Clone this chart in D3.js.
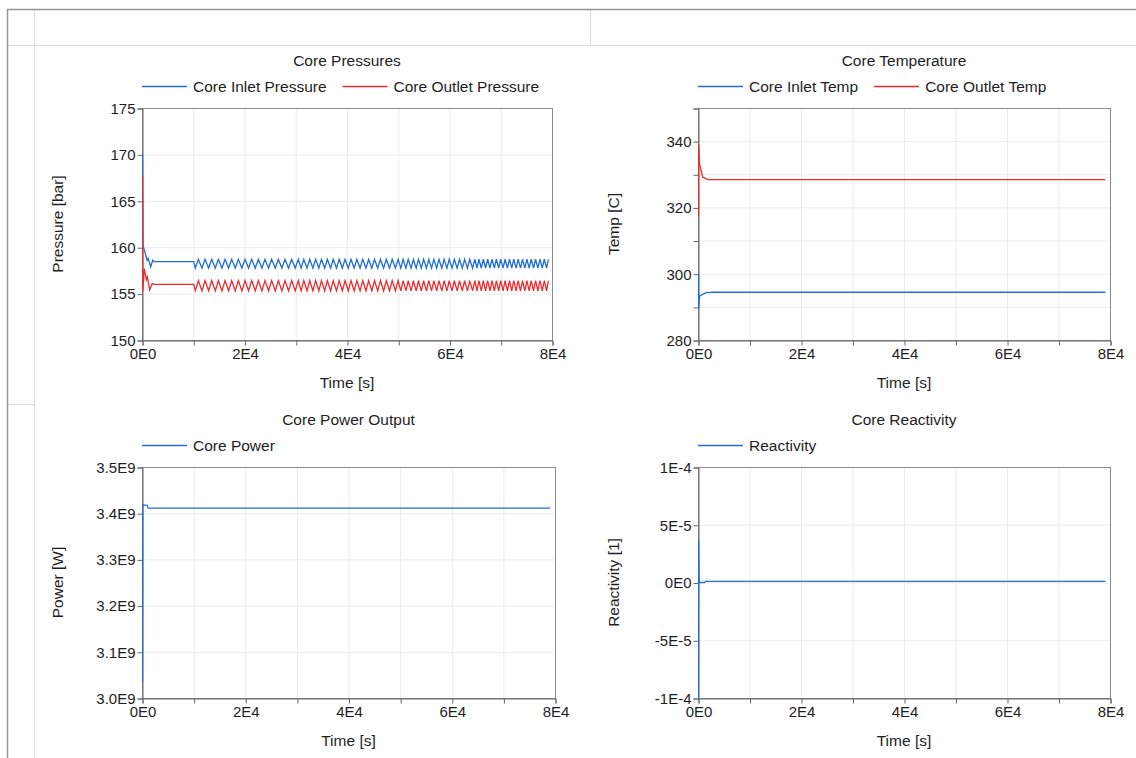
<!DOCTYPE html>
<html>
<head>
<meta charset="utf-8">
<script src="https://cdn.jsdelivr.net/npm/d3@7"></script>
<style>
  body { margin: 0; background: #fff; }
  svg text { font-family: "Liberation Sans", Arial, sans-serif; fill: #1e1e1e; }
</style>
</head>
<body>
<svg id="chart" width="1136" height="758"></svg>
<script>
// all times below are in kiloseconds (x axis is in seconds)
const xTicks = [0, 10000, 20000, 30000, 40000, 50000, 60000, 70000, 80000];

// Core Pressures
const pressTicks = [150, 155, 160, 165, 170, 175];
const inletStartT = [0, 0.1, 0.9, 1.1, 1.6, 2.0, 2.3, 10.0];
const inletStartP = [170, 160.2, 158.6, 158.8, 157.9, 158.6, 158.45, 158.45];
const outletStartT = [0, 0.05, 0.35, 0.75, 0.95, 1.4, 1.9, 2.2, 10.0];
const outletStartP = [167.7, 155.2, 157.7, 156.5, 156.8, 155.4, 156.1, 156.0, 156.0];
// oscillation after t = 1E4 (troughs and crests, same timing for both pressures)
const troughT = [10.3, 11.6, 12.9, 14.2, 15.5, 16.8, 18.1, 19.4, 20.7, 22.0, 23.3, 24.6, 25.9, 27.2, 28.5, 29.8,
  30.95, 32.1, 33.25, 34.4, 35.55, 36.7, 37.85, 39.0, 40.15, 41.3, 42.45, 43.6, 44.75, 45.9, 47.05, 48.2, 49.35,
  50.4, 51.4, 52.4, 53.4, 54.4, 55.4, 56.4, 57.4, 58.4, 59.4, 60.4, 61.4, 62.4, 63.4, 64.4,
  65.25, 66.1, 66.95, 67.8, 68.65, 69.5, 70.35, 71.2, 72.05, 72.9, 73.75, 74.6, 75.45, 76.3, 77.15, 78.0, 78.85];
const crestT = [10.9, 12.2, 13.5, 14.8, 16.1, 17.4, 18.7, 20.0, 21.3, 22.6, 23.9, 25.2, 26.5, 27.8, 29.1, 30.4,
  31.47, 32.62, 33.77, 34.92, 36.07, 37.22, 38.37, 39.52, 40.67, 41.82, 42.97, 44.12, 45.27, 46.42, 47.57, 48.72, 49.87,
  50.85, 51.85, 52.85, 53.85, 54.85, 55.85, 56.85, 57.85, 58.85, 59.85, 60.85, 61.85, 62.85, 63.85, 64.85,
  65.65, 66.5, 67.35, 68.2, 69.05, 69.9, 70.75, 71.6, 72.45, 73.3, 74.15, 75.0, 75.85, 76.7, 77.55, 78.4, 79.2];
const inletLowHigh = [157.75, 158.7];
const outletLowHigh = [155.3, 156.4];

// Core Temperature
const tempTicks = [280, 290, 300, 310, 320, 330, 340, 350];
const tempInT = [0, 0.05, 0.2, 0.6, 1.5, 3, 79];
const tempInV = [300, 289.5, 293.2, 293.6, 294.3, 294.4, 294.4];
const tempOutT = [0, 0.03, 0.2, 0.35, 0.8, 1.8, 79];
const tempOutV = [317.5, 339, 333, 332.3, 329.2, 328.4, 328.4];

// Core Power Output
const powerTicks = [3.0e9, 3.1e9, 3.2e9, 3.3e9, 3.4e9, 3.5e9];
const powerT = [0, 0.05, 0.9, 1.1, 79];
const powerV = [3.035e9, 3.418e9, 3.417e9, 3.411e9, 3.411e9];

// Core Reactivity
const reactTicks = [-1e-4, -5e-5, 0, 5e-5, 1e-4];
const reactLabels = ["-1E-4", "-5E-5", "0E0", "5E-5", "1E-4"];
const reactT = [0, 0.03, 0.12, 1.2, 1.4, 79];
const reactV = [-1e-4, 3.7e-5, 0, 0, 1e-6, 1e-6];

const BLUE = "#1f6fd6", RED = "#f02a2e";
const LABEL_SIZE = "15.5px", TICK_SIZE = 15;

function pts(ts, vs) { return ts.map((t, i) => [t * 1000, vs[i]]); }
function wiggle(lowHigh) {
  const out = [];
  troughT.forEach((t, i) => { out.push([t * 1000, lowHigh[0]]); out.push([crestT[i] * 1000, lowHigh[1]]); });
  return out;
}

const svg = d3.select("#chart");

// window frame
const frame = svg.append("g");
frame.append("line").attr("x1", 34.5).attr("x2", 34.5).attr("y1", 9).attr("y2", 758).attr("stroke", "#dcdcdc");
frame.append("line").attr("x1", 7).attr("x2", 1136).attr("y1", 45.5).attr("y2", 45.5).attr("stroke", "#dcdcdc");
frame.append("line").attr("x1", 590.5).attr("x2", 590.5).attr("y1", 9).attr("y2", 45).attr("stroke", "#dcdcdc");
frame.append("line").attr("x1", 7).attr("x2", 34).attr("y1", 404.5).attr("y2", 404.5).attr("stroke", "#dcdcdc");
frame.append("line").attr("x1", 7.5).attr("x2", 7.5).attr("y1", 9).attr("y2", 758).attr("stroke", "#969696").attr("stroke-width", 1.5);
frame.append("line").attr("x1", 7).attr("x2", 1136).attr("y1", 9.5).attr("y2", 9.5).attr("stroke", "#969696").attr("stroke-width", 1.5);

let clipId = 0;
function panel(o) {
  const g = svg.append("g");
  const x = d3.scaleLinear().domain([0, 80000]).range([o.x0, o.x1]);
  const y = d3.scaleLinear().domain(o.yDomain).range([o.y1, o.y0]);

  g.append("g").selectAll("line").data(xTicks).join("line")
    .attr("x1", d => x(d) + 0.5).attr("x2", d => x(d) + 0.5)
    .attr("y1", o.y0).attr("y2", o.y1).attr("stroke", "#ebebeb");
  g.append("g").selectAll("line").data(o.yTicks).join("line")
    .attr("x1", o.x0).attr("x2", o.x1)
    .attr("y1", d => y(d) + 0.5).attr("y2", d => y(d) + 0.5).attr("stroke", "#ebebeb");

  g.append("rect")
    .attr("x", o.x0 + 0.5).attr("y", o.y0 + 0.5)
    .attr("width", o.x1 - o.x0).attr("height", o.y1 - o.y0)
    .attr("fill", "none").attr("stroke", "#8c8c8c");

  const xAxis = d3.axisBottom(x).tickValues(xTicks).tickSize(5).tickPadding(3)
    .tickFormat(d => d % 20000 ? "" : (d === 0 ? "0E0" : (d / 10000) + "E4"));
  g.append("g").attr("transform", "translate(0.5," + (o.y1 + 0.5) + ")").call(xAxis)
    .attr("font-size", TICK_SIZE).call(s => s.selectAll("path,line").attr("stroke", "#666"));

  const yAxis = d3.axisLeft(y).tickValues(o.yTicks).tickSize(5).tickPadding(2).tickFormat(o.yFormat);
  g.append("g").attr("transform", "translate(" + (o.x0 + 0.5) + ",0.5)").call(yAxis)
    .attr("font-size", TICK_SIZE).call(s => s.selectAll("path,line").attr("stroke", "#666"));

  const cx = (o.x0 + o.x1) / 2, cy = (o.y0 + o.y1) / 2;
  g.append("text").text(o.title).attr("x", cx).attr("y", o.y0 - 42)
    .attr("text-anchor", "middle").style("font-size", LABEL_SIZE);
  g.append("text").text("Time [s]").attr("x", cx).attr("y", o.y1 + 48)
    .attr("text-anchor", "middle").style("font-size", LABEL_SIZE);
  g.append("text").text(o.yLabel)
    .attr("transform", "translate(" + (o.x0 - 79) + "," + cy + ") rotate(-90)")
    .attr("text-anchor", "middle").style("font-size", LABEL_SIZE);

  // legend, left aligned on the plot
  let lx = o.x0;
  o.series.forEach(s => {
    g.append("line").attr("x1", lx).attr("x2", lx + 45).attr("y1", o.y0 - 21.5).attr("y2", o.y0 - 21.5)
      .attr("stroke", s.color).attr("stroke-width", 1.3);
    const t = g.append("text").text(s.name).attr("x", lx + 51).attr("y", o.y0 - 16.5).style("font-size", LABEL_SIZE);
    lx += 51 + t.node().getComputedTextLength() + 16;
  });

  const id = "clip" + (clipId++);
  g.append("clipPath").attr("id", id).append("rect")
    .attr("x", o.x0).attr("y", o.y0).attr("width", o.x1 - o.x0 + 1).attr("height", o.y1 - o.y0 + 1);
  const line = d3.line().x(d => x(d[0]) + 0.5).y(d => y(d[1]));
  o.series.forEach(s => {
    g.append("path").datum(s.data).attr("clip-path", "url(#" + id + ")")
      .attr("d", line).attr("fill", "none").attr("stroke", s.color).attr("stroke-width", 1.3);
  });
}

panel({
  x0: 142, x1: 552, y0: 108, y1: 340, yDomain: [150, 175], yTicks: pressTicks,
  yFormat: d => d, title: "Core Pressures", yLabel: "Pressure [bar]",
  series: [
    { name: "Core Inlet Pressure", color: BLUE, data: pts(inletStartT, inletStartP).concat(wiggle(inletLowHigh)) },
    { name: "Core Outlet Pressure", color: RED, data: pts(outletStartT, outletStartP).concat(wiggle(outletLowHigh)) }
  ]
});

panel({
  x0: 698, x1: 1110, y0: 108, y1: 340, yDomain: [280, 350], yTicks: tempTicks,
  yFormat: d => d % 20 ? "" : d, title: "Core Temperature", yLabel: "Temp [C]",
  series: [
    { name: "Core Inlet Temp", color: BLUE, data: pts(tempInT, tempInV) },
    { name: "Core Outlet Temp", color: RED, data: pts(tempOutT, tempOutV) }
  ]
});

panel({
  x0: 142, x1: 555, y0: 467, y1: 698, yDomain: [3.0e9, 3.5e9], yTicks: powerTicks,
  yFormat: d => (d / 1e9).toFixed(1) + "E9", title: "Core Power Output", yLabel: "Power [W]",
  series: [
    { name: "Core Power", color: BLUE, data: pts(powerT, powerV) }
  ]
});

panel({
  x0: 698, x1: 1110, y0: 467, y1: 698, yDomain: [-1e-4, 1e-4], yTicks: reactTicks,
  yFormat: (d, i) => reactLabels[i], title: "Core Reactivity", yLabel: "Reactivity [1]",
  series: [
    { name: "Reactivity", color: BLUE, data: pts(reactT, reactV) }
  ]
});
</script>
</body>
</html>
